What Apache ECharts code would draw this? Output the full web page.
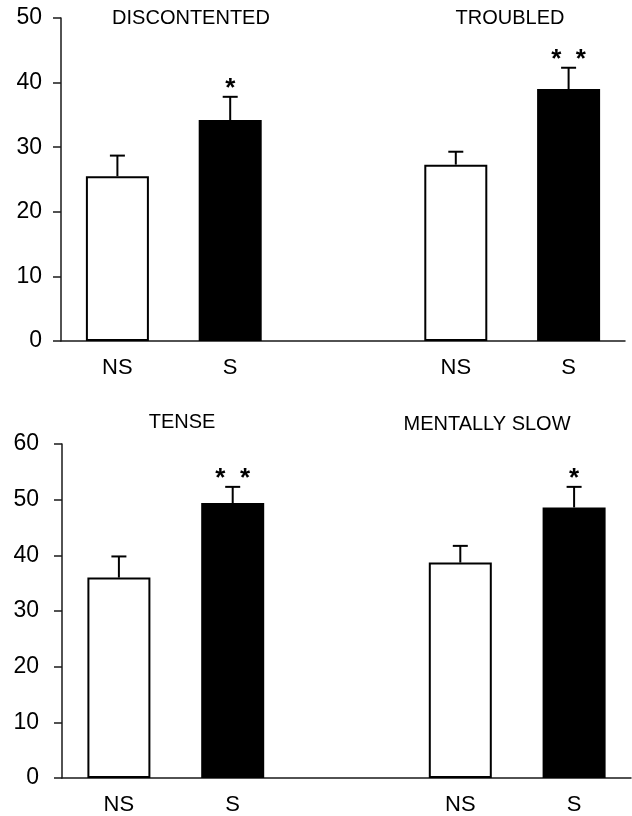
<!DOCTYPE html>
<html>
<head>
<meta charset="utf-8">
<script src="https://cdn.jsdelivr.net/npm/echarts@6/dist/echarts.min.js"></script>
<style>
  html, body { margin: 0; padding: 0; background: #fff; }
  #chart { width: 632px; height: 816px; }
</style>
</head>
<body>
<div id="chart"></div>
<script>
// Group slots along each x axis: two groups of NS / S with an empty slot between them
const categories = ['NS', 'S', '', 'NS', 'S'];

// Upper panel: DISCONTENTED (left group), TROUBLED (right group)
const topTitles = ['DISCONTENTED', 'TROUBLED'];
const topMeans = [25.5, 34.2, null, 27.3, 39.0];
const topSem = [3.2, 3.6, null, 2.0, 3.3];
const topSig = ['', '*', '', '', '*  *'];

// Lower panel: TENSE (left group), MENTALLY SLOW (right group)
const bottomTitles = ['TENSE', 'MENTALLY SLOW'];
const bottomMeans = [36.0, 49.4, null, 38.7, 48.6];
const bottomSem = [3.8, 2.9, null, 3.0, 3.7];
const bottomSig = ['', '*  *', '', '', '*'];

// Y-axis ranges
const topYMax = 50, bottomYMax = 60, yStep = 10;

const FONT = '"Liberation Sans", Arial, Helvetica, sans-serif';

const chart = echarts.init(document.getElementById('chart'), null, { renderer: 'canvas' });

function barSeries(means, gridIdx) {
  return {
    type: 'bar',
    xAxisIndex: gridIdx,
    yAxisIndex: gridIdx,
    barWidth: 63,
    data: means.map(v => (v === null ? '-' : v)),
    itemStyle: {
      color: p => (categories[p.dataIndex] === 'S' ? '#000' : '#fff'),
      borderColor: '#000',
      borderWidth: 2
    },
    silent: true,
    z: 2
  };
}

function errorSeries(means, sem, sig, gridIdx) {
  const data = [];
  means.forEach((m, i) => {
    if (m !== null) data.push([i, m, m + sem[i], sig[i]]);
  });
  return {
    type: 'custom',
    xAxisIndex: gridIdx,
    yAxisIndex: gridIdx,
    silent: true,
    z: 3,
    data: data,
    renderItem: function (params, api) {
      const i = api.value(0);
      const base = api.coord([i, api.value(1)]);
      const top = api.coord([i, api.value(2)]);
      const label = data[params.dataIndex][3];
      const capHalf = 7.5;
      const children = [
        { type: 'line', shape: { x1: base[0], y1: base[1], x2: top[0], y2: top[1] },
          style: { stroke: '#000', lineWidth: 2 } },
        { type: 'line', shape: { x1: top[0] - capHalf, y1: top[1], x2: top[0] + capHalf, y2: top[1] },
          style: { stroke: '#000', lineWidth: 2 } }
      ];
      if (label) {
        children.push({
          type: 'text',
          style: {
            text: label, x: top[0], y: top[1] - 8,
            align: 'center', verticalAlign: 'middle',
            fill: '#000', fontSize: 26, fontWeight: 'bold', fontFamily: FONT
          }
        });
      }
      return { type: 'group', children: children };
    }
  };
}

function xAxis(gridIdx) {
  return {
    type: 'category',
    gridIndex: gridIdx,
    data: categories,
    boundaryGap: true,
    axisLine: { lineStyle: { color: '#1a1a1a', width: 1.5 } },
    axisTick: { show: false },
    axisLabel: { color: '#000', fontSize: 22, fontFamily: FONT, margin: 16, interval: 0 },
    splitLine: { show: false }
  };
}

function yAxis(gridIdx, max, margin) {
  return {
    type: 'value',
    gridIndex: gridIdx,
    min: 0,
    max: max,
    interval: yStep,
    axisLine: { show: true, lineStyle: { color: '#1a1a1a', width: 1.5 } },
    axisTick: { show: true, inside: false, length: 8, lineStyle: { color: '#1a1a1a', width: 1.5 } },
    axisLabel: { color: '#000', fontSize: 23, fontFamily: FONT, margin: margin },
    splitLine: { show: false }
  };
}

function titleText(text, x, y) {
  return {
    type: 'text',
    x: x, y: y,
    style: {
      text: text, align: 'center', verticalAlign: 'middle',
      fill: '#000', fontSize: 20, fontFamily: FONT
    }
  };
}

chart.setOption({
  animation: false,
  backgroundColor: '#fff',
  grid: [
    { left: 61, top: 18, width: 564, height: 323 },
    { left: 62, top: 444, width: 569, height: 334 }
  ],
  xAxis: [xAxis(0), xAxis(1)],
  yAxis: [yAxis(0, topYMax, 19), yAxis(1, bottomYMax, 23)],
  series: [
    barSeries(topMeans, 0),
    errorSeries(topMeans, topSem, topSig, 0),
    barSeries(bottomMeans, 1),
    errorSeries(bottomMeans, bottomSem, bottomSig, 1)
  ],
  graphic: [
    titleText(topTitles[0], 191, 18),
    titleText(topTitles[1], 510, 18),
    titleText(bottomTitles[0], 182, 422),
    titleText(bottomTitles[1], 487, 424)
  ]
});
</script>
</body>
</html>
